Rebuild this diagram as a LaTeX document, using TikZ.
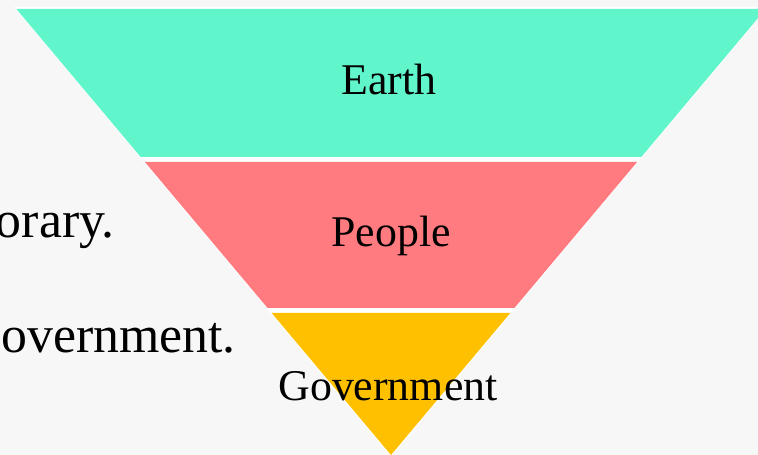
\documentclass[tikz,border=0pt]{standalone}
\usepackage{fontspec}
\setmainfont{Liberation Serif}
\definecolor{bg}{HTML}{F7F7F7}
\definecolor{teal1}{HTML}{61F5CB}
\definecolor{pink1}{HTML}{FF7B80}
\definecolor{gold1}{HTML}{FFC000}
\tikzset{
  band/.style={draw=white, line width=1.5bp, line join=miter},
  lbl/.style={anchor=base, inner sep=0pt, font=\fontsize{44}{50}\selectfont, text=black},
  side/.style={anchor=base east, inner sep=0pt, font=\fontsize{52}{60}\selectfont, text=black}
}
\begin{document}
\begin{tikzpicture}[x=1bp, y=-1bp]
\fill[bg] (0,0) rectangle (758,455);
\useasboundingbox (0,0) rectangle (758,455);
% outer white edge
\fill[white] (14,7) -- (768,7) -- (391,457) -- cycle;
% bands
\fill[teal1] (16.4,9) -- (765.6,9) -- (641.3,157) -- (140.7,157) -- cycle;
\fill[pink1] (144.9,162) -- (637.1,162) -- (514.4,308) -- (267.6,308) -- cycle;
\fill[gold1] (271.7,313) -- (510.3,313) -- (391,455) -- cycle;
% labels
\node[lbl] (earth) at (389,95) {Earth};
\node[lbl] (people) at (391,247) {People};
\node[lbl] (gov) at (388,400) {Government};
\node[side] (t1) at (115,238) {orary.};
\node[side] (t2) at (236,353) {overnment.};
\end{tikzpicture}
\end{document}
